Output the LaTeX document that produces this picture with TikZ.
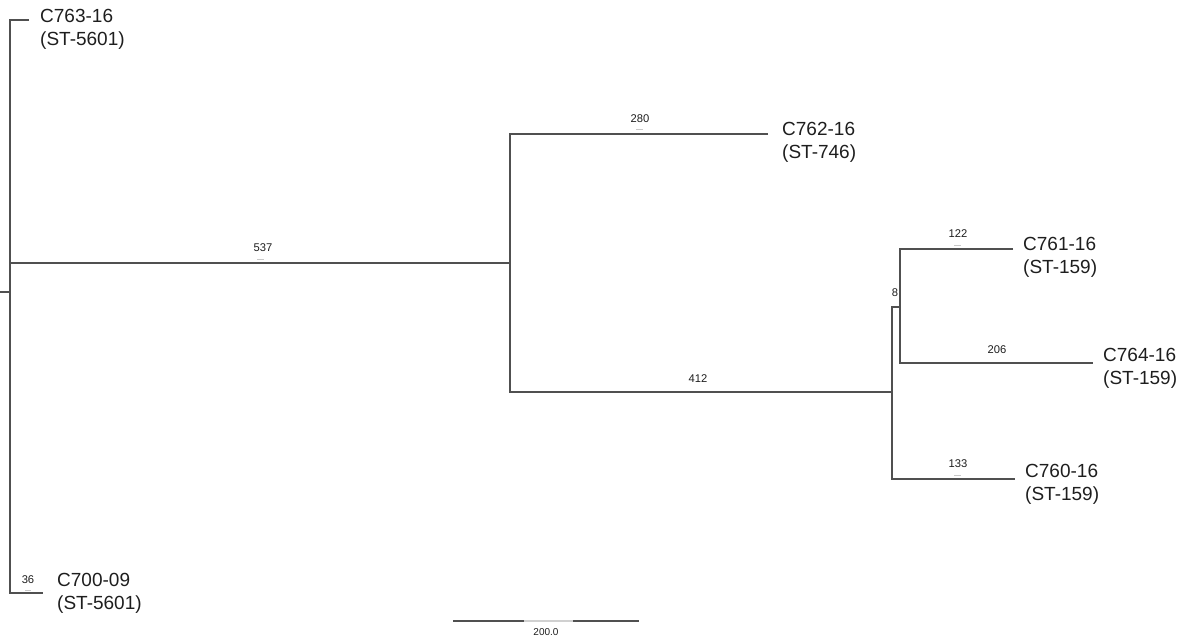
\documentclass[tikz,border=0pt]{standalone}
\usepackage{fontspec}
\setmainfont{Liberation Sans}
\definecolor{linec}{HTML}{505050}
\definecolor{txtc}{HTML}{1E1E1E}
\definecolor{tickc}{HTML}{C8C8C8}
\definecolor{lightc}{HTML}{D0D0D0}
\begin{document}
\begin{tikzpicture}[x=1pt,y=-1pt,
  br/.style={draw=linec, line width=1.3pt},
  leaf/.style={anchor=west, align=left, inner sep=0pt, text=txtc, font=\fontsize{19}{23}\selectfont},
  blab/.style={inner sep=0pt, text=txtc, font=\fontsize{11.2}{13}\selectfont},
  tickmark/.style={draw=tickc, line width=0.7pt},
  scalelab/.style={inner sep=0pt, text=txtc, font=\fontsize{10}{12}\selectfont}]
\useasboundingbox (0,0) rectangle (1187,639);
% tree coordinates
\coordinate (r0) at (0,292);
\coordinate (r) at (10,292);
\coordinate (rt) at (10,20);
\coordinate (rb) at (10,593);
\coordinate (rm) at (10,263);
\coordinate (l763) at (29,20);
\coordinate (l700) at (43,593);
\coordinate (n1) at (510,263);
\coordinate (n1t) at (510,134);
\coordinate (n1b) at (510,392);
\coordinate (l762) at (768,134);
\coordinate (n2) at (892,392);
\coordinate (n2t) at (892,307);
\coordinate (n2b) at (892,479);
\coordinate (n3) at (900,307);
\coordinate (n3t) at (900,249);
\coordinate (n3b) at (900,363);
\coordinate (l761) at (1013,249);
\coordinate (l764) at (1093,363);
\coordinate (l760) at (1015,479);
% branches
\draw[br] (r0) -- (r);
\draw[br] (l763) -- (rt) -- (rb) -- (l700);
\draw[br] (rm) -- (n1);
\draw[br] (l762) -- (n1t) -- (n1b) -- (n2);
\draw[br] (n3) -- (n2t) -- (n2b) -- (l760);
\draw[br] (l761) -- (n3t) -- (n3b) -- (l764);
% leaf labels
\node[leaf] (t763) at (40,29) {C763-16\\(ST-5601)};
\node[leaf] (t700) at (57,593) {C700-09\\(ST-5601)};
\node[leaf] (t762) at (782,142) {C762-16\\(ST-746)};
\node[leaf] (t761) at (1023,257) {C761-16\\(ST-159)};
\node[leaf] (t764) at (1103,368) {C764-16\\(ST-159)};
\node[leaf] (t760) at (1025,484) {C760-16\\(ST-159)};
% branch length labels
\node[blab] (b537) at (263,248) {537};
\node[blab] (b280) at (640,119) {280};
\node[blab] (b412) at (698,379) {412};
\node[blab] (b122) at (958,234) {122};
\node[blab] (b8) at (895,293) {8};
\node[blab] (b206) at (997,350) {206};
\node[blab] (b133) at (958,464) {133};
\node[blab] (b36) at (28,580) {36};
% faint ticks under labels
\draw[tickmark] (257,259) -- (264,259);
\draw[tickmark] (636,129) -- (643,129);
\draw[tickmark] (954,245) -- (961,245);
\draw[tickmark] (954,475) -- (961,475);
\draw[tickmark] (25,590) -- (31,590);
% scale bar
\coordinate (s0) at (453,621);
\coordinate (s1) at (524,621);
\coordinate (s2) at (573,621);
\coordinate (s3) at (639,621);
\draw[br] (s0) -- (s1);
\draw[draw=lightc, line width=1.1pt] (s1) -- (s2);
\draw[br] (s2) -- (s3);
\node[scalelab] (sl) at (546,632) {200.0};
\end{tikzpicture}
\end{document}
